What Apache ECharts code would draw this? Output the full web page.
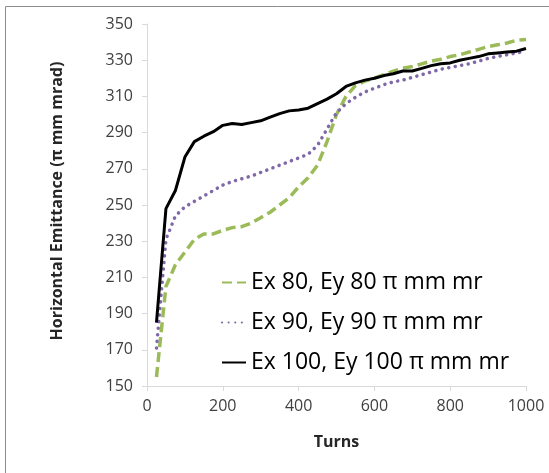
<!DOCTYPE html>
<html><head><meta charset="utf-8">
<script src="https://cdn.jsdelivr.net/npm/echarts@6/dist/echarts.min.js"></script>
<style>html,body{margin:0;padding:0;background:#fff}#c{width:549px;height:473px}</style>
</head><body><div id="c"></div>
<script>
const turns = [25,50,75,100,125,150,175,200,225,250,275,300,325,350,375,400,425,450,475,500,525,550,575,600,625,650,675,700,725,750,775,800,825,850,875,900,925,950,975,1000];
const ex80 = [155,205,217,224,231,234,234,236,237.5,238,240,243,246,250,254,260,265,272,285,300,310,316,318.5,320,322,324,325.5,326.5,328,329.5,330.5,332,333,334.5,336,337.5,338.5,339.5,341,341.5];
const ex90 = [171,231,244,249,252,255,258,261,263,264.5,266,268,270,272,274,276,278,283,292,301,306,309.5,312.5,314.5,316.5,318,319,320.5,322,323.5,325,326,327,328,329.5,331,332,333,334,335];
const ex100 = [185,248,258,276.5,285,288,290.5,294,295,294.5,295.5,296.5,298.5,300.5,302,302.5,303.5,306,308.5,311.5,315.5,317.5,319,320,321.5,322.5,324,324,325.5,327,328,328.5,330,331,332,333.5,334,334.5,335,336.5];
const names = ['Ex 80, Ey 80 \u03c0 mm mr','Ex 90, Ey 90 \u03c0 mm mr','Ex 100, Ey 100 \u03c0 mm mr'];
const xTitle = 'Turns';
const yTitle = 'Horizontal Emittance (\u03c0 mm mrad)';

const pair = (xs, ys) => xs.map((x, i) => [x, ys[i]]);
const chart = echarts.init(document.getElementById('c'), null, {renderer: 'canvas'});
const font = 'Open Sans';
chart.setOption({
  animation: false,
  graphic: [
    {type: 'line', shape: {x1: 5.5, y1: 6.5, x2: 549, y2: 6.5}, style: {stroke: '#8c8c8c', lineWidth: 1}},
    {type: 'line', shape: {x1: 5.5, y1: 6.5, x2: 5.5, y2: 473}, style: {stroke: '#8c8c8c', lineWidth: 1}}
  ],
  grid: {left: 147, right: 23, top: 24, bottom: 87, containLabel: false},
  xAxis: {
    type: 'value', min: 0, max: 1000, interval: 200,
    name: xTitle, nameLocation: 'middle', nameGap: 48,
    nameTextStyle: {fontFamily: font, fontSize: 16, fontWeight: 'bold', color: '#262626'},
    axisLine: {show: true, lineStyle: {color: '#d9d9d9', width: 1}},
    axisTick: {show: true, length: 5, lineStyle: {color: '#d9d9d9'}},
    axisLabel: {fontFamily: font, fontSize: 16, color: '#404040', margin: 12, formatter: v => String(v)},
    splitLine: {show: false}
  },
  yAxis: {
    type: 'value', min: 150, max: 350, interval: 20,
    name: yTitle, nameLocation: 'middle', nameGap: 82, nameRotate: 90,
    nameTextStyle: {fontFamily: font, fontSize: 16, fontWeight: 'bold', color: '#262626', padding: [0, 0, 0, 8]},
    axisLine: {show: true, lineStyle: {color: '#d9d9d9', width: 1}},
    axisTick: {show: true, length: 5, lineStyle: {color: '#d9d9d9'}},
    axisLabel: {fontFamily: font, fontSize: 16, color: '#404040', margin: 14, formatter: v => String(v)},
    splitLine: {show: false}
  },
  legend: {
    orient: 'vertical', left: 216, top: 266, itemWidth: 24, itemHeight: 14, itemGap: 17,
    textStyle: {fontFamily: font, fontSize: 23, color: '#000'},
    itemStyle: {opacity: 0},
    data: names
  },
  series: [
    {name: names[0], type: 'line', data: pair(turns, ex80), showSymbol: false, symbol: 'none',
     lineStyle: {color: '#9bbb59', width: 3.5, type: [10, 5]}, itemStyle: {color: '#9bbb59'}},
    {name: names[1], type: 'line', data: pair(turns, ex90), showSymbol: false, symbol: 'none',
     lineStyle: {color: '#7f67a8', width: 3.5, type: [0.1, 6.5], cap: 'round'}, itemStyle: {color: '#7f67a8'}},
    {name: names[2], type: 'line', data: pair(turns, ex100), showSymbol: false, symbol: 'none',
     lineStyle: {color: '#000', width: 3}, itemStyle: {color: '#000'}}
  ]
});
</script></body></html>
